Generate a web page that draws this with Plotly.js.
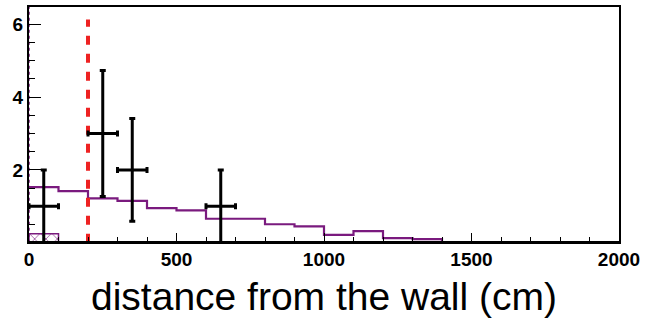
<!DOCTYPE html>
<html>
<head>
<meta charset="utf-8">
<script src="https://cdn.plot.ly/plotly-3.0.1.min.js"></script>
<style>html,body{margin:0;padding:0;background:#fff;}#chart{width:650px;height:322px;}</style>
</head>
<body>
<div id="chart"></div>
<script>
// Data (cm, counts)
const dataX = [50, 250, 350, 650];
const dataY = [1, 3, 2, 1];
const dataErrY = [1, 1.73, 1.41, 1];
const dataErrX = [50, 50, 50, 50];

const histEdges = [0, 100, 200, 300, 400, 500, 600, 700, 800, 900, 1000, 1100, 1200, 1300, 1400];
const histVals  = [1.53, 1.42, 1.22, 1.15, 0.95, 0.89, 0.66, 0.66, 0.51, 0.45, 0.22, 0.32, 0.13, 0.10, 0];

const hatchX = [50];
const hatchY = [0.25];

const cutX = [200, 200];
const cutY = [0, 6.13];

const edgeX = [0, 0];
const edgeY = [0, 6.47];

const xTicks = [0, 500, 1000, 1500, 2000];
const yTicks = [2, 4, 6];

const purple = '#7a1a7e';

const traces = [
  {
    type: 'bar', x: hatchX, y: hatchY, width: [100],
    marker: {color: 'rgba(0,0,0,0)', line: {color: purple, width: 1.5},
             pattern: {shape: 'x', fgcolor: purple, size: 8, solidity: 0.15}},
    showlegend: false, hoverinfo: 'skip'
  },
  {
    type: 'scatter', mode: 'lines', x: edgeX, y: edgeY,
    line: {color: purple, width: 1.5, dash: 'dot'}, showlegend: false
  },
  {
    type: 'scatter', mode: 'lines', x: histEdges, y: histVals,
    line: {color: purple, width: 2.2, shape: 'hv'}, showlegend: false
  },
  {
    type: 'scatter', mode: 'lines', x: cutX, y: cutY,
    line: {color: '#ee2222', width: 4, dash: '9px,9px'}, showlegend: false
  },
  {
    type: 'scatter', mode: 'markers', x: dataX, y: dataY,
    marker: {color: 'black', size: 3},
    error_y: {type: 'data', array: dataErrY, visible: true, color: 'black', thickness: 3, width: 3},
    error_x: {type: 'data', array: dataErrX, visible: true, color: 'black', thickness: 3, width: 3},
    showlegend: false
  }
];

const layout = {
  width: 650, height: 322,
  margin: {l: 29, r: 31, t: 7, b: 81},
  paper_bgcolor: 'white', plot_bgcolor: 'white',
  showlegend: false,
  bargap: 0,
  xaxis: {
    range: [0, 2000], tickvals: xTicks, ticktext: xTicks.map(String),
    ticks: 'inside', ticklen: 8, tickwidth: 1, tickcolor: 'black',
    minor: {dtick: 100, ticks: 'inside', ticklen: 4, tickcolor: 'black', showgrid: false},
    showline: true, mirror: true, linewidth: 2.5, linecolor: 'black',
    showgrid: false, zeroline: false, automargin: false,
    tickfont: {family: 'Liberation Sans, Arial, sans-serif', size: 19, color: 'black', weight: 'bold'},
    title: {text: 'distance from the wall (cm)', standoff: 14,
            font: {family: 'Liberation Sans, Arial, sans-serif', size: 39, color: 'black'}}
  },
  yaxis: {
    range: [0.05, 6.47], tickvals: yTicks, ticktext: yTicks.map(String),
    ticks: 'inside', ticklen: 12, tickwidth: 1, tickcolor: 'black',
    minor: {dtick: 0.5, ticks: 'inside', ticklen: 6, tickcolor: 'black', showgrid: false},
    showline: true, mirror: true, linewidth: 2, linecolor: 'black',
    showgrid: false, zeroline: false, automargin: false,
    ticklabelposition: 'outside', ticklabelstandoff: 0,
    tickfont: {family: 'Liberation Sans, Arial, sans-serif', size: 19, color: 'black', weight: 'bold'}
  }
};

Plotly.newPlot('chart', traces, layout, {displayModeBar: false, staticPlot: true});
</script>
</body>
</html>
